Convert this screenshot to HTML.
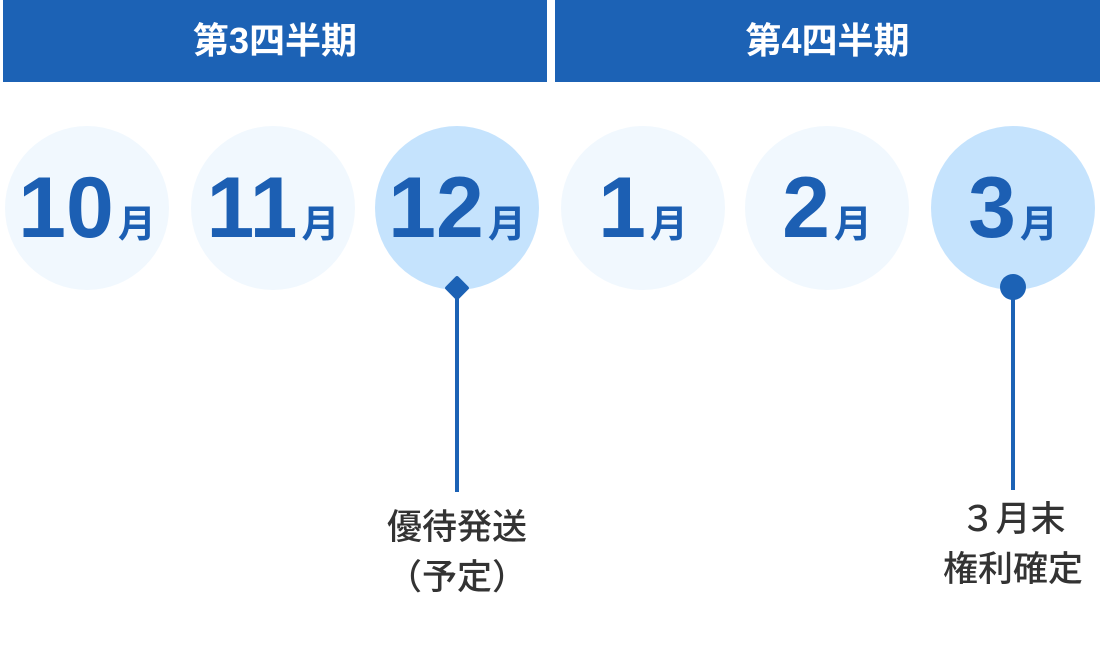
<!DOCTYPE html>
<html><head><meta charset="utf-8"><style>
body{margin:0;width:1100px;height:660px;background:#fff;position:relative;overflow:hidden;font-family:"Liberation Sans","Noto Sans CJK JP",sans-serif}
.h{position:absolute;top:0;height:82px;background:#1c62b5;color:#fff;font-weight:bold;font-size:36px;line-height:82px;text-align:center}
.c{position:absolute;top:126px;width:164px;height:164px;border-radius:50%;background:#f1f8fe;color:#1c5fb3;font-weight:bold;text-align:center;line-height:164px;white-space:nowrap}
.c b{font-size:86px;letter-spacing:0}
.c span{font-size:38px;margin-left:4px}
.hl{background:#c5e3fd}
.t{position:absolute;color:#333;font-size:35px;font-weight:500;text-align:center;line-height:50px;width:240px}
.l{position:absolute;width:4px;background:#1c62b5}
</style></head><body>
<div class="h" style="left:3px;width:544px">第3四半期</div>
<div class="h" style="left:555px;width:545px">第4四半期</div>
<div class="c" style="left:5px"><b>10</b><span>月</span></div>
<div class="c" style="left:191px"><b>11</b><span>月</span></div>
<div class="c hl" style="left:375px"><b>12</b><span>月</span></div>
<div class="c" style="left:561px"><b>1</b><span>月</span></div>
<div class="c" style="left:745px"><b>2</b><span>月</span></div>
<div class="c hl" style="left:931px"><b>3</b><span>月</span></div>
<div class="l" style="left:455px;top:290px;height:202px"></div>
<div style="position:absolute;left:448px;top:279px;width:18px;height:18px;background:#1c62b5;transform:rotate(45deg);border-radius:2px"></div>
<div class="l" style="left:1011px;top:290px;height:200px"></div>
<div style="position:absolute;left:1000px;top:274px;width:26px;height:26px;border-radius:50%;background:#1c62b5"></div>
<div class="t" style="left:337px;top:503px">優待発送<br>（予定）</div>
<div class="t" style="left:893px;top:495px">３月末<br>権利確定</div>
</body></html>
